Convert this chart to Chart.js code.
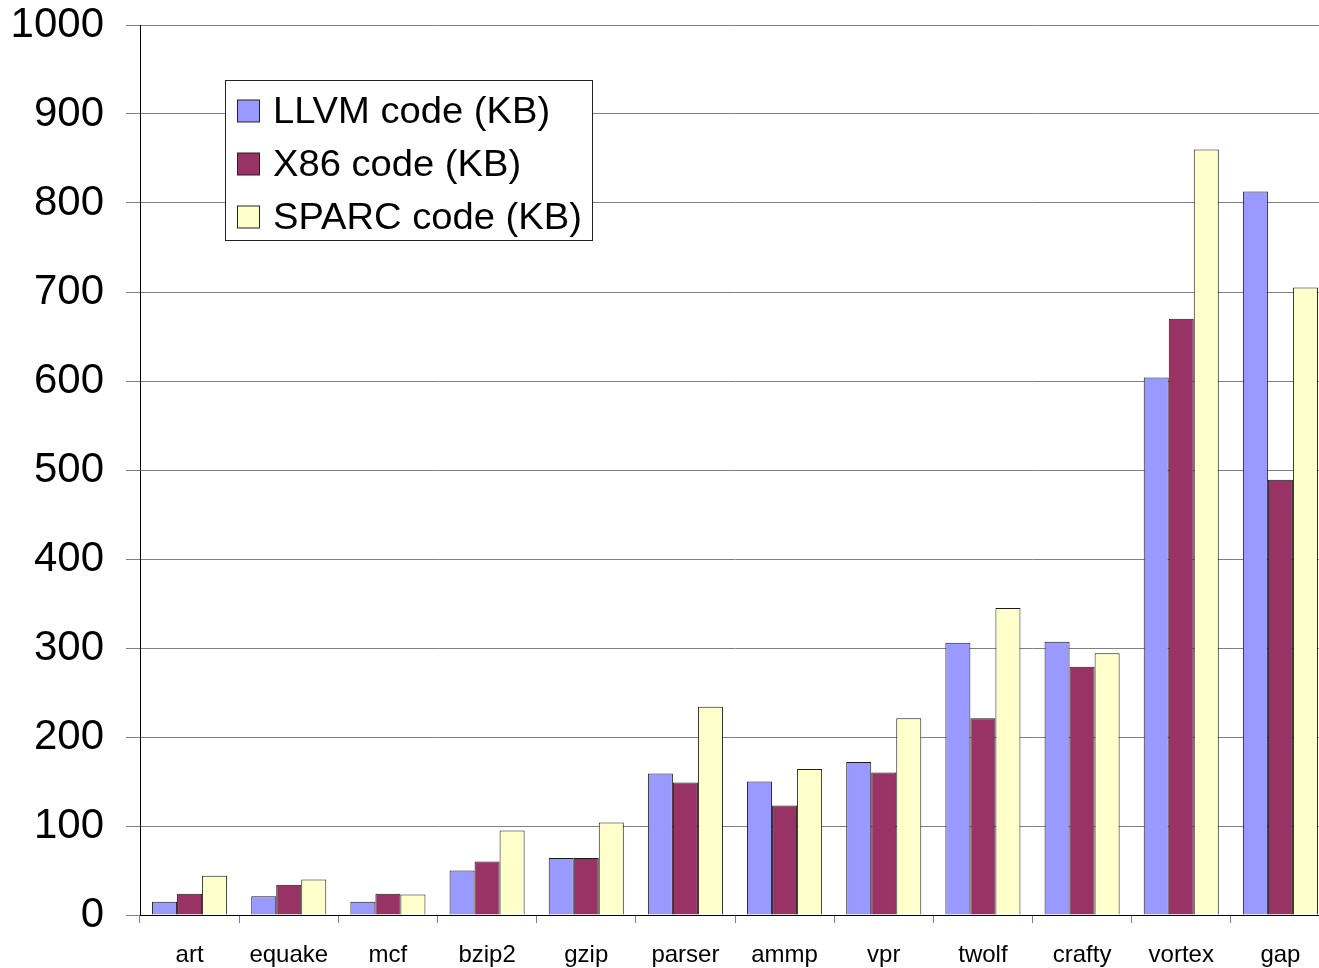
<!DOCTYPE html>
<html>
<head>
<meta charset="utf-8">
<script src="https://cdn.jsdelivr.net/npm/chart.js@4/dist/chart.umd.min.js"></script>
<style>
  html, body { margin: 0; padding: 0; background: #fff; overflow: hidden; }
  #wrap { width: 1319px; height: 968px; overflow: hidden; position: relative; }
  canvas { display: block; }
</style>
</head>
<body>
<div id="wrap"><canvas id="c" width="1330" height="968"></canvas></div>
<script>
const categories = ["art", "equake", "mcf", "bzip2", "gzip", "parser", "ammp", "vpr", "twolf", "crafty", "vortex", "gap"];
const llvmCode  = [15, 21, 15, 50, 64, 159, 150, 172, 306, 307, 604, 813];
const x86Code   = [24, 34, 24, 60, 64, 149, 123, 160, 221, 279, 670, 489];
const sparcCode = [44, 40, 23, 95, 104, 234, 164, 221, 345, 294, 860, 705];
const seriesLabels = ["LLVM code (KB)", "X86 code (KB)", "SPARC code (KB)"];
const yTickValues = [0, 100, 200, 300, 400, 500, 600, 700, 800, 900, 1000];

const FONT = "'Liberation Sans', Arial, sans-serif";
const colors = ["#9999FF", "#993366", "#FFFFCC"];

const legendPlugin = {
  id: 'insideLegend',
  afterDraw(chart) {
    const ctx = chart.ctx;
    ctx.save();
    const bx = 225.5, by = 80.5, bw = 367, bh = 160;
    ctx.fillStyle = '#fff';
    ctx.fillRect(bx, by, bw, bh);
    ctx.strokeStyle = '#222';
    ctx.lineWidth = 1;
    ctx.strokeRect(bx, by, bw, bh);
    ctx.textBaseline = 'alphabetic';
    ctx.textAlign = 'left';
    chart.data.datasets.forEach((ds, i) => {
      const baseY = 122.5 + i * 53;
      const sq = 22;
      const sy = baseY - 23;
      ctx.fillStyle = ds.backgroundColor;
      ctx.fillRect(237.5, sy + 0.5, sq, sq);
      ctx.strokeStyle = '#222';
      ctx.strokeRect(237.5, sy + 0.5, sq, sq);
      ctx.save();
      ctx.translate(273, baseY);
      ctx.scale(1.06, 1);
      ctx.font = '36px ' + FONT;
      ctx.fillStyle = '#000';
      ctx.fillText(ds.label, 0, 0);
      ctx.restore();
    });
    ctx.restore();
  }
};

new Chart(document.getElementById('c'), {
  type: 'bar',
  data: {
    labels: categories,
    datasets: [
      { label: seriesLabels[0], data: llvmCode,  backgroundColor: colors[0] },
      { label: seriesLabels[1], data: x86Code,   backgroundColor: colors[1] },
      { label: seriesLabels[2], data: sparcCode, backgroundColor: colors[2] }
    ]
  },
  options: {
    responsive: false,
    animation: false,
    devicePixelRatio: 1,
    layout: { padding: { top: 25, right: 0, left: 0, bottom: 0 } },
    datasets: {
      bar: {
        borderColor: '#1a1a1a',
        borderWidth: 1,
        barPercentage: 1.0,
        categoryPercentage: 0.757
      }
    },
    plugins: {
      legend: { display: false },
      tooltip: { enabled: false }
    },
    scales: {
      x: {
        afterFit(scale) { scale.height = 53; scale.paddingLeft = 0; scale.paddingRight = 0; },
        grid: {
          drawOnChartArea: false,
          drawTicks: true,
          tickLength: 8,
          color: '#808080',
          offset: true
        },
        border: { display: true, color: '#000', width: 1 },
        ticks: {
          color: '#000',
          font: { family: FONT, size: 24 },
          padding: 18,
          maxRotation: 0,
          autoSkip: false
        }
      },
      y: {
        min: 0,
        max: 1000,
        afterFit(scale) { scale.width = 140; scale.paddingTop = 0; scale.paddingBottom = 0; },
        afterBuildTicks(scale) { scale.ticks = yTickValues.map(v => ({ value: v })); },
        grid: {
          color: '#808080',
          tickLength: 14,
          drawTicks: true
        },
        border: { display: true, color: '#000', width: 1 },
        ticks: {
          color: '#000',
          font: { family: FONT, size: 42 },
          padding: 22,
          callback: (v) => String(v)
        }
      }
    }
  },
  plugins: [legendPlugin]
});
</script>
</body>
</html>
